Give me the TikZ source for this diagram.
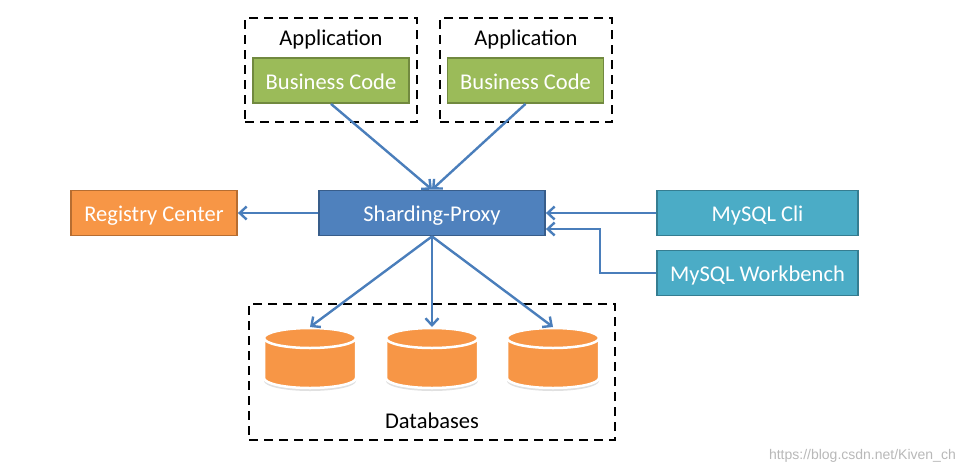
\documentclass[tikz,border=0pt]{standalone}
\usepackage{fontspec}
\setmainfont{Carlito}
\newfontfamily\wmfont{Liberation Sans}
\usetikzlibrary{arrows.meta,calc}
\definecolor{gfill}{HTML}{9BBB59}
\definecolor{gline}{HTML}{71893F}
\definecolor{bfill}{HTML}{4F81BD}
\definecolor{bline}{HTML}{385D8A}
\definecolor{ofill}{HTML}{F79646}
\definecolor{oline}{HTML}{B66D31}
\definecolor{tfill}{HTML}{4BACC6}
\definecolor{tline}{HTML}{357D91}
\definecolor{arrcol}{HTML}{4A7EBB}
\begin{document}
\begin{tikzpicture}[x=1pt,y=-1pt,
  every node/.style={font=\fontsize{22.5}{26}\selectfont, inner sep=0pt},
  solidbox/.style={draw, line width=1.8pt, text=white, minimum height=45pt, text height=19pt, text depth=1.5pt},
  gbox/.style={solidbox, fill=gfill, draw=gline, minimum width=156pt},
  bbox/.style={solidbox, fill=bfill, draw=bline, minimum width=226pt},
  obox/.style={solidbox, fill=ofill, draw=oline, minimum width=166pt},
  tbox/.style={solidbox, fill=tfill, draw=tline, minimum width=201pt},
  dashbox/.style={draw=black, line width=2.6pt, dash pattern=on 9pt off 6pt},
  arr/.style={draw=arrcol, line width=2.4pt, -{Straight Barb[length=7pt,width=13pt,line width=2.4pt]}},
  cyl/.style={fill=ofill, draw=white, line width=2.5pt}
]
\useasboundingbox (0,0) rectangle (962,475);

% application groups
\node[dashbox, minimum width=172pt, minimum height=104pt] (app1) at (331,70) {};
\node[dashbox, minimum width=172pt, minimum height=104pt] (app2) at (526,70) {};
\node (apptxt1) at (331,39) {Application};
\node (apptxt2) at (526,39) {Application};
\node[gbox] (bc1) at (331,80.5) {Business Code};
\node[gbox] (bc2) at (525.5,80.5) {Business Code};

% middle row
\node[bbox] (proxy) at (432,213) {Sharding-Proxy};
\node[obox] (reg) at (154,213) {Registry Center};
\node[tbox] (cli) at (757.5,213) {MySQL Cli};
\node[tbox] (wb) at (757.5,273) {MySQL Workbench};

% databases group
\node[dashbox, minimum width=366pt, minimum height=136pt] (dbgroup) at (432,372) {};
\node (dbtxt) at (432,421) {Databases};

\foreach \cx/\n in {310/db1,432/db2,553/db3}{
  \fill[black!12] (\cx-46,340) -- (\cx-46,381) arc[start angle=180,end angle=360,x radius=46pt,y radius=10pt] -- (\cx+46,340) -- cycle;
  \filldraw[cyl] (\cx-46,338) -- (\cx-46,378) arc[start angle=180,end angle=360,x radius=46pt,y radius=10pt] -- (\cx+46,338) arc[start angle=0,end angle=180,x radius=46pt,y radius=10pt] -- cycle;
  \draw[white, line width=2.5pt] (\cx-46,338) arc[start angle=180,end angle=360,x radius=46pt,y radius=10pt];
  \coordinate (\n) at (\cx,327);
}

% connectors
\draw[arr] (bc1.south) -- (proxy.north);
\draw[arr] (bc2.south) -- (proxy.north);
\draw[arr] (proxy.west) -- (reg.east);
\draw[arr] (cli.west) -- (proxy.east);
\draw[arr] (wb.west) -- ++(-56,0) |- ($(proxy.east)+(0,16)$);
\draw[arr] (proxy.south) -- (db1);
\draw[arr] (proxy.south) -- (db2);
\draw[arr] (proxy.south) -- (db3);

% watermark
\node[font=\wmfont\fontsize{14}{16}\selectfont, text=black!28, anchor=east] (wm) at (956,456) {https://blog.csdn.net/Kiven\_ch};
\end{tikzpicture}
\end{document}
